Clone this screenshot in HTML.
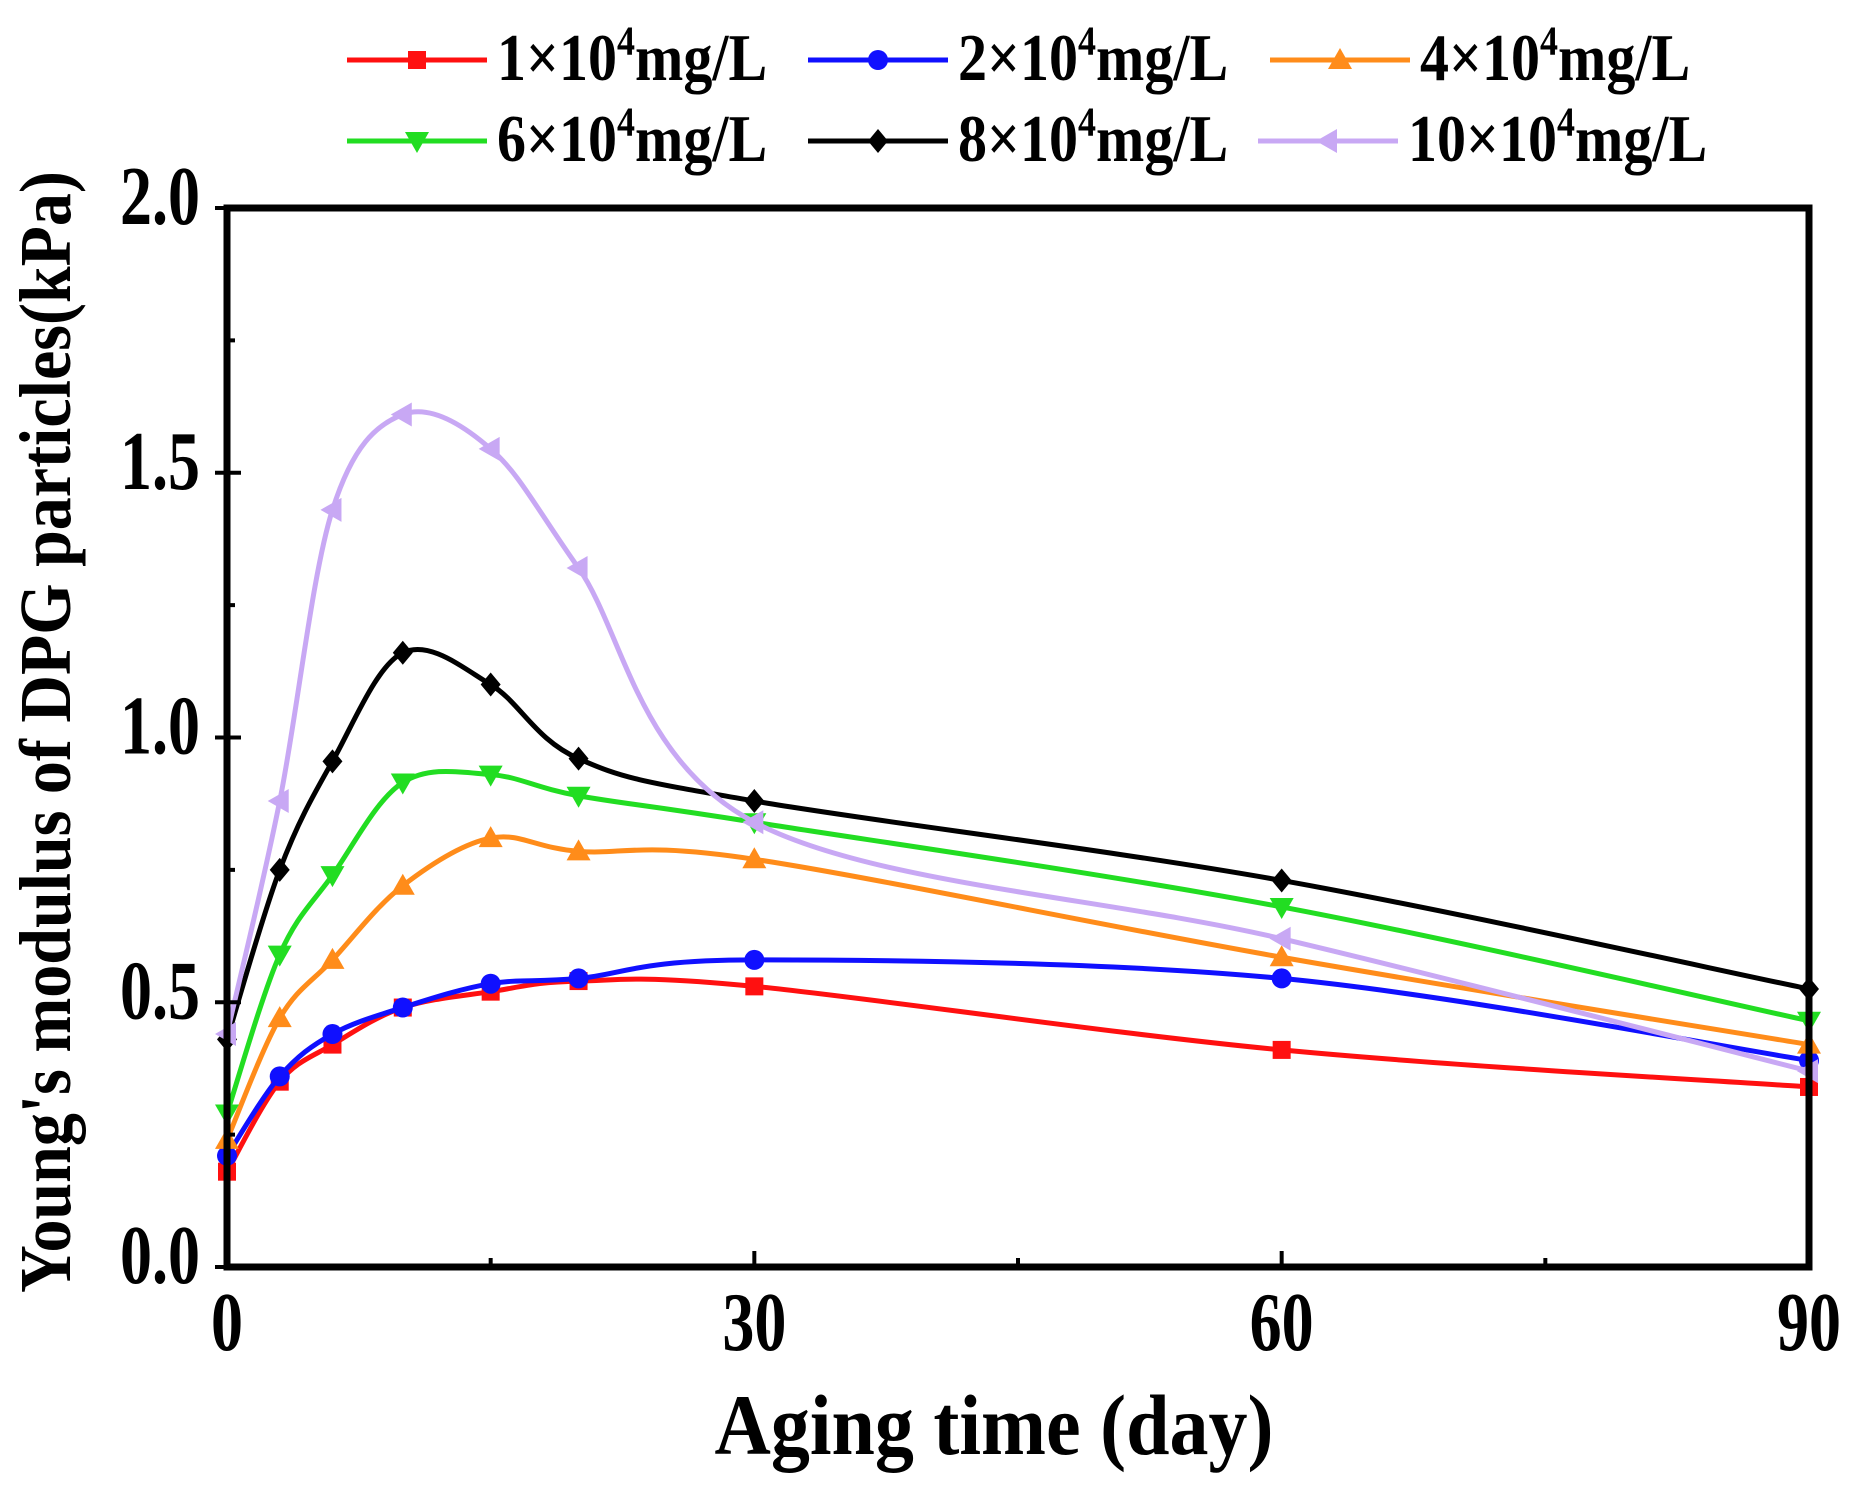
<!DOCTYPE html>
<html><head><meta charset="utf-8"><style>
body{margin:0;background:#fff}
svg text{font-family:"Liberation Serif",serif;font-weight:bold;fill:#000}
</style></head><body>
<svg id="chart" width="1869" height="1492" viewBox="0 0 1869 1492" xmlns="http://www.w3.org/2000/svg">
<g id="grid-layer"></g>
<g id="series-layer"></g>
<g id="axis-layer"></g>
<g id="legend-layer"></g>
</svg>
<script>
const xDays = [0,3,6,10,15,20,30,60,90];
const s1 = [0.18,0.35,0.42,0.49,0.52,0.54,0.53,0.41,0.34];
const s2 = [0.21,0.36,0.44,0.49,0.535,0.545,0.58,0.545,0.39];
const s4 = [0.24,0.47,0.58,0.72,0.81,0.785,0.77,0.585,0.42];
const s6 = [0.29,0.59,0.74,0.915,0.93,0.89,0.84,0.68,0.465];
const s8 = [0.43,0.75,0.955,1.16,1.1,0.96,0.88,0.73,0.525];
const s10 = [0.44,0.88,1.43,1.61,1.545,1.32,0.84,0.62,0.37];
const xTicks = [0,30,60,90];
const yTicks = [0.0,0.5,1.0,1.5,2.0];
const seriesNames = ["1×10","2×10","4×10","6×10","8×10","10×10"];

const NS="http://www.w3.org/2000/svg";
const X0=227,X1=1809,Y0=1267,Y1=208;
const xs=v=>X0+(v-0)/(90-0)*(X1-X0);
const ys=v=>Y0-(v-0)/(2-0)*(Y0-Y1);
function mk(tag,attrs,parent){const e=document.createElementNS(NS,tag);for(const k in attrs)e.setAttribute(k,attrs[k]);parent.appendChild(e);return e;}
const sl=document.getElementById('series-layer'),al=document.getElementById('axis-layer'),ll=document.getElementById('legend-layer');

const series=[
 {d:s1,c:"#ff1010",m:"square"},
 {d:s2,c:"#1010ff",m:"circle"},
 {d:s4,c:"#ff8c1a",m:"tri"},
 {d:s6,c:"#22dd22",m:"tridown"},
 {d:s8,c:"#000000",m:"diamond"},
 {d:s10,c:"#c8a8f4",m:"trileft"}
];
function marker(type,x,y,c,parent){
 let e;const r=9;
 if(type==="square")e=mk('rect',{x:x-r,y:y-r,width:2*r,height:2*r,fill:c},parent);
 else if(type==="circle")e=mk('circle',{cx:x,cy:y,r:r+1,fill:c},parent);
 else{
  let p;
  if(type==="tri")p=[[x,y-12],[x+12,y+9],[x-12,y+9]];
  else if(type==="tridown")p=[[x,y+12],[x+12,y-9],[x-12,y-9]];
  else if(type==="diamond")p=[[x,y-12],[x+10,y],[x,y+12],[x-10,y]];
  else p=[[x-12,y],[x+9,y-12],[x+9,y+12]];
  e=mk('polygon',{points:p.map(q=>q.join(',')).join(' '),fill:c},parent);
 }
 return e;
}
function pathFor(pts){
 let d=`M${pts[0][0]},${pts[0][1]}`;
 for(let i=0;i<pts.length-1;i++){
  const p0=pts[Math.max(0,i-1)],p1=pts[i],p2=pts[i+1],p3=pts[Math.min(pts.length-1,i+2)];
  const t=0.5/3;
  const c1=[p1[0]+(p2[0]-p0[0])*t,p1[1]+(p2[1]-p0[1])*t];
  const c2=[p2[0]-(p3[0]-p1[0])*t,p2[1]-(p3[1]-p1[1])*t];
  d+=` C${c1[0]},${c1[1]} ${c2[0]},${c2[1]} ${p2[0]},${p2[1]}`;
 }
 return d;
}
series.forEach((s,si)=>{
 const g=mk('g',{},sl);
 
 
 const pts=xDays.map((x,i)=>[xs(x),ys(s.d[i])]);
 const p=mk('path',{d:pathFor(pts),fill:'none',stroke:s.c,'stroke-width':5},g);
 
 
 pts.forEach(q=>{const m=marker(s.m,q[0],q[1],s.c,g);
  
  });
});
const fr=mk('rect',{x:X0,y:Y1,width:X1-X0,height:Y0-Y1,fill:'none',stroke:'#000','stroke-width':7},al);


xTicks.forEach(v=>{
 const x=xs(v);
 mk('line',{x1:x,y1:Y0,x2:x,y2:Y0-16,stroke:'#000','stroke-width':4},al);
 const t=mk('text',{x:0,y:0,'text-anchor':'middle','font-size':64,transform:`translate(${x},1350) scale(1,1.3)`},al);t.textContent=v;
 
 
});
[15,45,75].forEach(v=>mk('line',{x1:xs(v),y1:Y0,x2:xs(v),y2:Y0-9,stroke:'#000','stroke-width':4},al));
yTicks.forEach(v=>{
 const y=ys(v);
 mk('line',{x1:X0-12,y1:y,x2:X0+14,y2:y,stroke:'#000','stroke-width':4},al);
 const t=mk('text',{x:0,y:0,'text-anchor':'end','font-size':64,transform:`translate(200,${y+16}) scale(1,1.3)`},al);t.textContent=v.toFixed(1);
 
 
});
[0.25,0.75,1.25,1.75].forEach(v=>mk('line',{x1:X0,y1:ys(v),x2:X0+8,y2:ys(v),stroke:'#000','stroke-width':4},al));
const xt=mk('text',{x:0,y:0,'text-anchor':'middle','font-size':78,transform:`translate(${(X0+X1)/2-24},1454) scale(1,1.1)`},al);xt.textContent='Aging time (day)';


const yt=mk('text',{x:0,y:0,'text-anchor':'middle','font-size':66,transform:'translate(70,732) rotate(-90) scale(1,1.1)'},al);yt.textContent="Young's modulus of DPG particles(kPa)";


const lpos=[[347,60],[808,60],[1270,60],[347,141],[808,141],[1258,141]];
series.forEach((s,i)=>{
 const [lx,ly]=lpos[i];
 const g=mk('g',{},ll);
 
 
 mk('line',{x1:lx,y1:ly,x2:lx+140,y2:ly,stroke:s.c,'stroke-width':5},g);
 marker(s.m,lx+70,ly,s.c,g);
 const t=mk('text',{x:0,y:0,'font-size':58,transform:`translate(${lx+150},${ly+20}) scale(1,1.15)`},g);
 t.innerHTML=seriesNames[i]+'<tspan dy="-22" font-size="36">4</tspan><tspan dy="22">mg/L</tspan>';
});
</script>
</body></html>
